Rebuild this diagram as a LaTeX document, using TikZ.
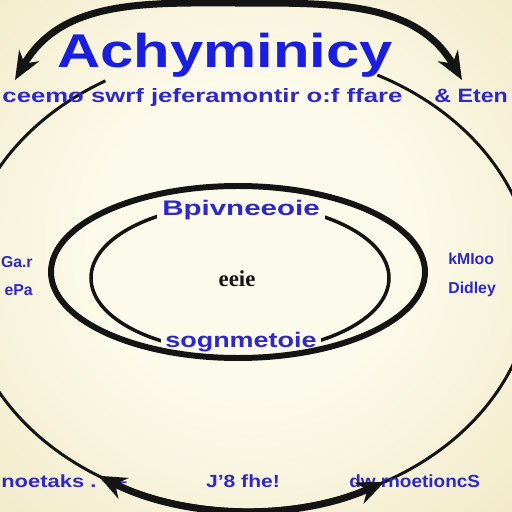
\documentclass[tikz,border=0pt]{standalone}
\usepackage{fontspec}
\setmainfont{Liberation Sans}
\newfontfamily\coreface{Liberation Serif}
\usepackage{tikz}
\usetikzlibrary{arrows.meta, positioning}

\definecolor{paper}{RGB}{252,250,234}
\definecolor{parchment}{RGB}{229,213,158}
\definecolor{titleblue}{RGB}{26,30,222}
\definecolor{labelblue}{RGB}{46,40,198}
\definecolor{ink}{RGB}{20,20,20}

\pgfdeclareradialshading{glow}{\pgfpoint{0bp}{0bp}}{%
  color(0bp)=(paper); color(12bp)=(paper); color(50bp)=(parchment)}

\begin{document}
\begin{tikzpicture}[
    x=0.02cm, y=0.02cm,
    headword/.style={font=\fontsize{27}{30}\selectfont\bfseries, text=titleblue, inner sep=0pt, xscale=1.26},
    headline/.style={font=\fontsize{11}{13}\selectfont\bfseries, text=labelblue, inner sep=0pt, xscale=1.33},
    sidelabel/.style={font=\fontsize{9}{11}\selectfont\bfseries, text=labelblue, inner sep=0pt},
    ringlabel/.style={font=\fontsize{12}{14}\selectfont\bfseries, text=labelblue, fill=paper, inner sep=2pt},
    footlabel/.style={font=\fontsize{10}{12}\selectfont\bfseries, text=labelblue, inner sep=0pt},
    cyclearr/.style={{Stealth[length=16pt, width=13pt]}-{Stealth[length=16pt, width=13pt]}, line width=4pt, draw=ink},
]
    % Page and glow
    \useasboundingbox (0,0) rectangle (512,512);
    \clip (0,0) rectangle (512,512);
    \shade[shading=glow] (-80,-60) rectangle (580,600);

    % Outer ring, open under the heading
    \draw[ink, line width=1.7pt] (248,232) ++(120:285 and 230)
        arc[start angle=120, end angle=423, x radius=285, y radius=230];

    % Inner ring and its labels
    \draw[ink, line width=2pt] (240,234) ellipse[x radius=149, y radius=74];
    \node[ringlabel, xscale=1.4] (ringtop) at (241,302) {Bpivneeoie};
    \node[ringlabel, xscale=1.28] (ringfoot) at (241,170) {sognmetoie};

    % Middle ring
    \draw[ink, line width=3.4pt] (238,240) ellipse[x radius=187, y radius=86];
    \node[font=\coreface\fontsize{13}{15}\selectfont\bfseries, text=ink] (core) at (237,233) {eeie};

    % Side labels
    \node[sidelabel, anchor=base east] (leftup) at (33,245) {Ga.r};
    \node[sidelabel, below=9.5pt of leftup.south east, anchor=north east] (leftdown) {ePa};
    \node[sidelabel, anchor=base west] (rightup) at (448,248) {kMIoo};
    \node[sidelabel, below=10pt of rightup.south west, anchor=north west] (rightdown) {Didley};

    % Footer
    \node[footlabel, anchor=base east, xscale=1.25] (footleft) at (127,25) {noetaks . —};
    \node[footlabel, anchor=base, xscale=1.2] (footmid) at (243,25) {J'8 fhe!};
    \node[footlabel, anchor=base west, xscale=1.08] (footright) at (349,25) {dw rnoetioncS};

    % Cycle arrows
    \coordinate (topleft) at (15,432);
    \coordinate (topcrest) at (245,509);
    \coordinate (topright) at (462,432);
    \draw[cyclearr] (topleft) to[out=60, in=180] (topcrest) to[out=0, in=120] (topright);
    \coordinate (footL) at (98.2,36.3);
    \draw[cyclearr] (footL) arc[start angle=238.3, end angle=298.7, x radius=285, y radius=230];

    % Heading
    \node[headword, anchor=base] (heading) at (225,445) {Achyminicy};
    \node[headline, anchor=base west] (subline) at (2,410) {ceemo swrf jeferamontir o:f ffare};
    \node[headline, anchor=base west, xscale=1.2/1.33] (subtail) at (434,410) {\& Eten};
\end{tikzpicture}
\end{document}
